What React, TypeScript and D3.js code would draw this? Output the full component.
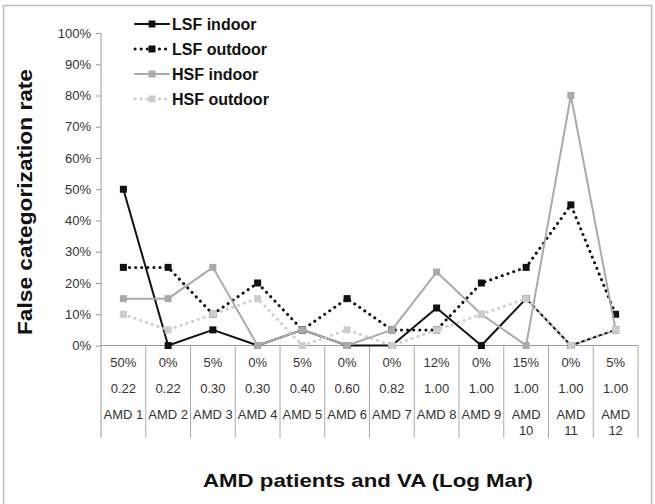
import React, { useRef, useEffect } from "react";
import * as d3 from "d3";

const CATEGORIES = ["AMD 1", "AMD 2", "AMD 3", "AMD 4", "AMD 5", "AMD 6", "AMD 7", "AMD 8", "AMD 9", "AMD 10", "AMD 11", "AMD 12"];
const RATE_LABELS = ["50%", "0%", "5%", "0%", "5%", "0%", "0%", "12%", "0%", "15%", "0%", "5%"];
const VA_LABELS = ["0.22", "0.22", "0.30", "0.30", "0.40", "0.60", "0.82", "1.00", "1.00", "1.00", "1.00", "1.00"];

const LSF_INDOOR = [0.5, 0, 0.05, 0, 0.05, 0, 0, 0.12, 0, 0.15, 0, 0.05];
const LSF_OUTDOOR = [0.25, 0.25, 0.1, 0.2, 0.05, 0.15, 0.05, 0.05, 0.2, 0.25, 0.45, 0.1];
const HSF_INDOOR = [0.15, 0.15, 0.25, 0, 0.05, 0, 0.05, 0.235, 0.1, 0, 0.8, 0.05];
const HSF_OUTDOOR = [0.1, 0.05, 0.1, 0.15, 0, 0.05, 0, 0.05, 0.1, 0.15, 0, 0.05];

const Y_TICKS = [0, 0.1, 0.2, 0.3, 0.4, 0.5, 0.6, 0.7, 0.8, 0.9, 1];

const SERIES = [
  { name: "LSF indoor", values: LSF_INDOOR, color: "#111", dash: null, width: 2 },
  { name: "LSF outdoor", values: LSF_OUTDOOR, color: "#111", dash: "0.1,6", width: 3 },
  { name: "HSF indoor", values: HSF_INDOOR, color: "#aaa", dash: null, width: 2 },
  { name: "HSF outdoor", values: HSF_OUTDOOR, color: "#cdcdcd", dash: "0.1,6", width: 3 },
];

export default function App() {
  const svgRef = useRef<SVGSVGElement>(null);
  const width = 655;
  const height = 504;

  useEffect(() => {
    document.body.style.margin = "0";
    if (!svgRef.current) return;
    const svg = d3.select(svgRef.current);
    svg.selectAll("*").remove();

    const font = "Arial, 'Liberation Sans', Helvetica, sans-serif";
    const left = 101;
    const right = 638;
    const top = 33;
    const bottom = 345.5;
    const tableBottom = 438;

    // 枠（下辺は画像の外）
    svg.append("rect")
      .attr("x", 3.5).attr("y", 5.5)
      .attr("width", 648).attr("height", 510)
      .attr("fill", "#fff")
      .attr("stroke", "#bdbdbd")
      .attr("stroke-width", 1.5);

    const x = d3.scaleBand<string>().domain(CATEGORIES).range([left, right]);
    const y = d3.scaleLinear().domain([0, 1]).range([bottom, top]);
    const cx = (i: number) => (x(CATEGORIES[i]) as number) + x.bandwidth() / 2;

    // Y軸
    const yAxis = d3.axisLeft(y).tickValues(Y_TICKS).tickSize(5).tickFormat(d3.format(".0%"));
    const gy = svg.append("g").attr("transform", `translate(${left},0)`).call(yAxis);
    gy.select(".domain").remove();
    gy.selectAll("line").attr("stroke", "#999");
    gy.selectAll("text")
      .attr("x", -10)
      .style("font-family", font)
      .style("font-size", "13px")
      .style("fill", "#333");

    svg.append("line")
      .attr("x1", left).attr("x2", left)
      .attr("y1", top).attr("y2", tableBottom)
      .attr("stroke", "#999");

    // X軸 / テーブル
    svg.append("line")
      .attr("x1", left).attr("x2", right)
      .attr("y1", bottom).attr("y2", bottom)
      .attr("stroke", "#999");

    CATEGORIES.forEach((c, i) => {
      const x1 = (x(c) as number) + x.bandwidth();
      svg.append("line")
        .attr("x1", x1).attr("x2", x1)
        .attr("y1", bottom).attr("y2", tableBottom)
        .attr("stroke", "#aaa");
      const t = svg.append("g")
        .style("font-family", font)
        .style("font-size", "13px")
        .style("fill", "#333")
        .attr("text-anchor", "middle");
      t.append("text").attr("x", cx(i)).attr("y", 367).text(RATE_LABELS[i]);
      t.append("text").attr("x", cx(i)).attr("y", 393).text(VA_LABELS[i]);
      const parts = c.split(" ");
      if (parts[1].length > 1) {
        t.append("text").attr("x", cx(i)).attr("y", 419).text(parts[0]);
        t.append("text").attr("x", cx(i)).attr("y", 435).text(parts[1]);
      } else {
        t.append("text").attr("x", cx(i)).attr("y", 419).text(c);
      }
    });

    // 系列
    const line = d3.line<number>()
      .x((_, i) => cx(i))
      .y((d) => y(d));

    SERIES.forEach((s) => {
      const p = svg.append("path")
        .datum(s.values)
        .attr("d", line)
        .attr("fill", "none")
        .attr("stroke", s.color)
        .attr("stroke-width", s.width)
        .attr("stroke-linecap", "round")
        .attr("stroke-linejoin", "round");
      if (s.dash) p.attr("stroke-dasharray", s.dash);
      svg.append("g")
        .selectAll("rect")
        .data(s.values)
        .join("rect")
        .attr("x", (_, i) => cx(i) - 3.5)
        .attr("y", (d) => y(d) - 3.5)
        .attr("width", 7)
        .attr("height", 7)
        .attr("fill", s.color);
    });

    // 凡例
    SERIES.forEach((s, i) => {
      const g = svg.append("g").attr("transform", `translate(135,${24 + i * 25})`);
      const l = g.append("line")
        .attr("x1", 0).attr("x2", 34)
        .attr("y1", 0).attr("y2", 0)
        .attr("stroke", s.color)
        .attr("stroke-width", s.width)
        .attr("stroke-linecap", "round");
      if (s.dash) l.attr("stroke-dasharray", s.dash);
      g.append("rect").attr("x", 13.5).attr("y", -3.5).attr("width", 7).attr("height", 7).attr("fill", s.color);
      g.append("text")
        .attr("x", 37).attr("y", 5.5)
        .style("font-family", font)
        .style("font-size", "16px")
        .style("font-weight", "bold")
        .style("fill", "#111")
        .text(s.name);
    });

    // 軸タイトル
    svg.append("text")
      .attr("transform", "rotate(-90)")
      .attr("x", -202).attr("y", 32)
      .attr("text-anchor", "middle")
      .attr("textLength", 266)
      .attr("lengthAdjust", "spacingAndGlyphs")
      .style("font-family", font)
      .style("font-size", "20px")
      .style("font-weight", "bold")
      .style("fill", "#111")
      .text("False categorization rate");

    svg.append("text")
      .attr("x", 368).attr("y", 487)
      .attr("text-anchor", "middle")
      .attr("textLength", 330)
      .attr("lengthAdjust", "spacingAndGlyphs")
      .style("font-family", font)
      .style("font-size", "19px")
      .style("font-weight", "bold")
      .style("fill", "#111")
      .text("AMD patients and VA (Log Mar)");
  }, []);

  return <svg ref={svgRef} width={width} height={height} style={{ display: "block" }} />;
}
